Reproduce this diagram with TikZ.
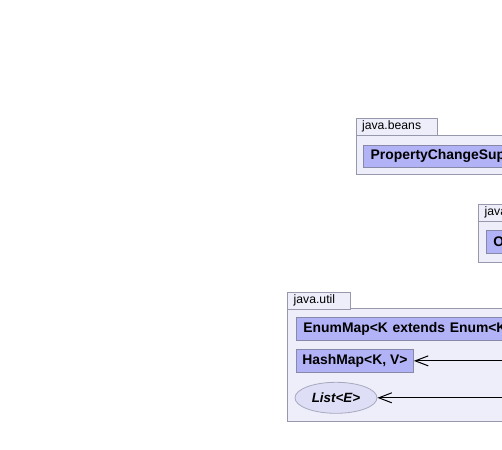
\documentclass[tikz,border=0pt]{standalone}
\usepackage{fontspec}
\setmainfont{Liberation Sans}
\usetikzlibrary{shapes.geometric,arrows.meta}
\definecolor{pkgfill}{RGB}{238,238,251}
\definecolor{pkgborder}{RGB}{152,152,172}
\definecolor{clsfill}{RGB}{178,178,246}
\definecolor{clsborder}{RGB}{136,136,168}
\definecolor{ifcfill}{RGB}{222,222,246}
\definecolor{ifcborder}{RGB}{168,168,190}
\begin{document}
\begin{tikzpicture}[x=1pt,y=-1pt,
  pkgbody/.style={draw=pkgborder, fill=pkgfill, line width=0.8pt, inner sep=0pt, anchor=north west},
  pkgtab/.style={draw=pkgborder, fill=pkgfill, line width=0.8pt, inner xsep=6pt, inner ysep=0pt,
    minimum height=16.7pt, align=left, anchor=north west, font=\fontsize{12.2}{14}\selectfont},
  clsbox/.style={draw=clsborder, fill=clsfill, line width=0.8pt, inner xsep=7pt, inner ysep=0pt,
    minimum height=22.5pt, align=left, anchor=north west, font=\fontsize{13.9}{16}\selectfont\bfseries},
  ifcbox/.style={draw=ifcborder, fill=ifcfill, ellipse, line width=0.8pt, inner sep=0pt,
    minimum width=82pt, minimum height=31pt, font=\fontsize{13.4}{16}\selectfont\bfseries\itshape},
  dep/.style={draw=black, line width=1pt, -{Straight Barb[length=13pt,width=10pt]}}
]
\useasboundingbox (0,0) rectangle (502,449);
\clip (0,0) rectangle (502,449);

% java.beans
\node[pkgbody, minimum width=200pt, minimum height=39.6pt] (jbbody) at (355.7,134.7) {};
\node[pkgtab, text width=69.3pt] (jbtab) at (355.7,118) {java.beans};
\node[clsbox, text width=180pt] (pcs) at (363.3,144.5) {PropertyChangeSup};

% second package (cut at the edge)
\node[pkgbody, minimum width=100pt, minimum height=40.5pt] (jlbody) at (478.3,221) {};
\node[pkgtab, text width=60pt] (jltab) at (478.3,204) {java};
\node[clsbox, text width=60pt] (obj) at (486,230) {O};

% java.util
\node[pkgbody, minimum width=300pt, minimum height=113pt] (jubody) at (287.3,308) {};
\node[pkgtab, text width=50.7pt] (jutab) at (287.3,292) {java.util};
\node[clsbox, text width=260pt] (enummap) at (296,317) {EnumMap<K extends Enum<K};
\node[clsbox, inner xsep=6pt] (hashmap) at (296,349.2) {HashMap<K, V>};
\node[ifcbox] (list) at (336,397.8) {List<E>};

\coordinate (src) at (530,0);
\draw[dep] (hashmap.east -| src) -- (hashmap.east);
\draw[dep] (list.east -| src) -- (list.east);
\end{tikzpicture}
\end{document}
